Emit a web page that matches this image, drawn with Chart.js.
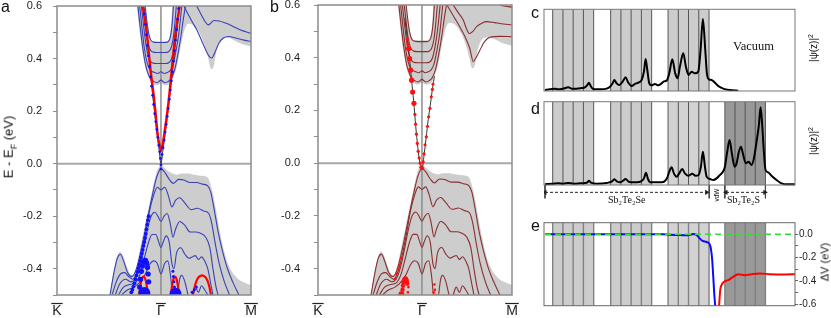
<!DOCTYPE html>
<html><head><meta charset="utf-8">
<script src="https://cdn.jsdelivr.net/npm/chart.js@4.4.1/dist/chart.umd.min.js"></script>
<style>
html,body{margin:0;padding:0;background:#fff;}
#wrap{position:relative;width:831px;height:318px;overflow:hidden;font-family:'Liberation Sans',Arial,sans-serif;color:#111;}
canvas{position:absolute;}
.lbl{position:absolute;white-space:nowrap;line-height:1;}
.rot{transform:translate(-50%,-50%) rotate(-90deg);}
.serif{font-family:'Liberation Serif','Times New Roman',serif;}
</style></head><body><div id="wrap">
<canvas id="ca" width="262" height="318" style="left:0;top:0"></canvas>
<canvas id="cb" width="262" height="318" style="left:261px;top:0"></canvas>
<canvas id="cc" width="260" height="100" style="left:540px;top:0"></canvas>
<canvas id="cd" width="260" height="115" style="left:540px;top:95px"></canvas>
<canvas id="ce" width="291" height="103" style="left:540px;top:215px"></canvas>
<div class="lbl" style="left:1px;top:-1px;font-size:16px">a</div>
<div class="lbl" style="left:270px;top:-1px;font-size:16px">b</div>
<div class="lbl" style="left:531px;top:5px;font-size:16px">c</div>
<div class="lbl" style="left:531px;top:101px;font-size:16px">d</div>
<div class="lbl" style="left:531px;top:218px;font-size:16px">e</div>
<div class="lbl rot" style="left:10px;top:147px;font-size:13px">E - E<sub style="font-size:9px">F</sub> (eV)</div>
<div class="lbl serif" style="left:733px;top:40px;font-size:12.5px">Vacuum</div>
<div class="lbl rot" style="left:813px;top:48px;font-size:10px">|ψ(z)|<sup style="font-size:7px">2</sup></div>
<div class="lbl rot" style="left:813px;top:141px;font-size:10px">|ψ(z)|<sup style="font-size:7px">2</sup></div>
<div class="lbl rot" style="left:825px;top:262px;font-size:11px">ΔV (eV)</div>
<div class="lbl serif" style="left:608px;top:195px;font-size:10px">Sb₂Te₂Se</div>
<div class="lbl serif" style="left:727px;top:195px;font-size:10px">Sb₂Te₂S</div>
<div class="lbl rot" style="left:717px;top:195px;font-size:6.5px">vdW</div>
</div>
<script>
// ---------- band structure data (k in units of |Gamma-K|, E in eV) ----------
const kTickVals = [-1, 0, 0.866];
const kTickLabels = ['K', '\u0393', 'M'];
const eTickVals = [-0.5,-0.4,-0.3,-0.2,-0.1,0,0.1,0.2,0.3,0.4,0.5,0.6];
const eTickLabels = ['','-0.4','','-0.2','','0.0','','0.2','','0.4','','0.6'];

const vbEdge = [[-0.49,-0.5],[-0.46,-0.42],[-0.43,-0.365],[-0.395,-0.335],[-0.36,-0.355],[-0.33,-0.39],[-0.3,-0.418],[-0.27,-0.425],[-0.24,-0.395],[-0.2,-0.32],[-0.16,-0.245],[-0.12,-0.17],[-0.08,-0.095],[-0.04,-0.03],[0,-0.006],[0.05,-0.022],[0.1,-0.036],[0.15,-0.042],[0.2,-0.038],[0.26,-0.038],[0.32,-0.042],[0.38,-0.046],[0.44,-0.05],[0.47,-0.07],[0.5,-0.115],[0.54,-0.2],[0.58,-0.285],[0.63,-0.365],[0.68,-0.41],[0.74,-0.438],[0.8,-0.452],[0.866,-0.462]];
const cbLow = [[-0.232,0.6],[-0.21,0.52],[-0.18,0.43],[-0.15,0.365],[-0.115,0.325],[-0.08,0.305],[-0.04,0.298],[0,0.305],[0.04,0.298],[0.08,0.302],[0.1,0.312],[0.12,0.332],[0.15,0.365],[0.18,0.425],[0.2,0.465],[0.23,0.512],[0.26,0.532],[0.3,0.53],[0.34,0.516],[0.38,0.49],[0.42,0.45],[0.455,0.4],[0.475,0.366],[0.49,0.36],[0.51,0.375],[0.53,0.42],[0.56,0.458],[0.6,0.476],[0.65,0.478],[0.7,0.47],[0.76,0.458],[0.866,0.445]];
const cbHigh = [[-0.232,0.6],[-0.154,0.6],[-0.14,0.56],[-0.125,0.52],[-0.11,0.49],[-0.095,0.472],[-0.08,0.466],[-0.04,0.466],[0,0.466],[0.04,0.466],[0.065,0.468],[0.08,0.478],[0.092,0.505],[0.102,0.55],[0.11,0.6],[0.866,0.6]];

const vb1 = [[-0.49,-0.5],[-0.45,-0.41],[-0.42,-0.36],[-0.39,-0.345],[-0.36,-0.37],[-0.32,-0.415],[-0.28,-0.43],[-0.24,-0.405],[-0.2,-0.345],[-0.16,-0.27],[-0.12,-0.19],[-0.08,-0.115],[-0.04,-0.05],[0,-0.02],[0.04,-0.035],[0.08,-0.06],[0.12,-0.075],[0.17,-0.06],[0.22,-0.062],[0.28,-0.072],[0.34,-0.072],[0.4,-0.078],[0.45,-0.085],[0.48,-0.11],[0.51,-0.17],[0.55,-0.26],[0.59,-0.33],[0.64,-0.4],[0.69,-0.45],[0.75,-0.5]];
const vb2 = [[-0.47,-0.5],[-0.43,-0.45],[-0.39,-0.42],[-0.35,-0.415],[-0.31,-0.43],[-0.27,-0.44],[-0.23,-0.41],[-0.19,-0.35],[-0.15,-0.27],[-0.11,-0.18],[-0.07,-0.12],[-0.035,-0.09],[0,-0.1],[0.035,-0.09],[0.07,-0.12],[0.105,-0.165],[0.14,-0.14],[0.18,-0.13],[0.23,-0.15],[0.29,-0.175],[0.35,-0.17],[0.41,-0.18],[0.46,-0.19],[0.49,-0.23],[0.52,-0.3],[0.56,-0.38],[0.61,-0.45],[0.66,-0.5]];
const vb3 = [[-0.44,-0.5],[-0.4,-0.46],[-0.34,-0.44],[-0.29,-0.45],[-0.25,-0.44],[-0.21,-0.4],[-0.17,-0.33],[-0.13,-0.25],[-0.095,-0.2],[-0.06,-0.185],[-0.03,-0.2],[0,-0.22],[0.03,-0.2],[0.06,-0.19],[0.09,-0.23],[0.115,-0.28],[0.14,-0.25],[0.18,-0.22],[0.23,-0.235],[0.28,-0.26],[0.33,-0.26],[0.38,-0.265],[0.43,-0.28],[0.47,-0.32],[0.5,-0.4],[0.53,-0.47],[0.55,-0.5]];
const vb4 = [[-0.41,-0.5],[-0.36,-0.47],[-0.3,-0.46],[-0.25,-0.455],[-0.2,-0.42],[-0.16,-0.36],[-0.12,-0.3],[-0.085,-0.27],[-0.05,-0.27],[-0.02,-0.3],[0,-0.32],[0.02,-0.3],[0.05,-0.275],[0.08,-0.3],[0.105,-0.38],[0.125,-0.4],[0.15,-0.34],[0.19,-0.32],[0.23,-0.345],[0.27,-0.36],[0.3,-0.355],[0.33,-0.35],[0.36,-0.365],[0.39,-0.355],[0.42,-0.37],[0.45,-0.4],[0.48,-0.46],[0.5,-0.5]];
const vb5 = [[-0.38,-0.5],[-0.32,-0.48],[-0.26,-0.47],[-0.2,-0.45],[-0.15,-0.42],[-0.11,-0.385],[-0.07,-0.37],[-0.035,-0.38],[0,-0.42],[0.035,-0.38],[0.065,-0.37],[0.09,-0.42],[0.11,-0.5]];
const vb6 = [[0.16,-0.5],[0.18,-0.44],[0.2,-0.425],[0.23,-0.45],[0.26,-0.5]];
const vb7 = [[0.3,-0.5],[0.33,-0.47],[0.36,-0.49],[0.39,-0.465],[0.42,-0.48],[0.45,-0.5]];

const cb1 = [[-0.152,0.6],[-0.138,0.55],[-0.12,0.5],[-0.1,0.472],[-0.075,0.463],[-0.04,0.461],[0,0.461],[0.04,0.461],[0.065,0.463],[0.085,0.475],[0.1,0.505],[0.11,0.545],[0.12,0.6]];
const cb2 = [[-0.17,0.6],[-0.155,0.545],[-0.135,0.48],[-0.11,0.438],[-0.08,0.425],[-0.04,0.423],[0,0.423],[0.04,0.423],[0.07,0.425],[0.095,0.438],[0.115,0.47],[0.13,0.52],[0.148,0.6]];
const cb3 = [[-0.188,0.6],[-0.17,0.535],[-0.145,0.455],[-0.115,0.4],[-0.085,0.384],[-0.04,0.381],[0,0.381],[0.04,0.381],[0.075,0.384],[0.1,0.398],[0.125,0.44],[0.15,0.505],[0.175,0.6]];
const cb4 = [[-0.205,0.6],[-0.185,0.525],[-0.16,0.44],[-0.13,0.38],[-0.1,0.355],[-0.06,0.347],[-0.03,0.343],[0,0.35],[0.03,0.343],[0.06,0.347],[0.09,0.355],[0.115,0.375],[0.14,0.42],[0.17,0.49],[0.2,0.6]];
const cb5 = [[-0.222,0.6],[-0.2,0.52],[-0.175,0.44],[-0.145,0.37],[-0.11,0.33],[-0.07,0.313],[-0.035,0.308],[0,0.318],[0.035,0.308],[0.07,0.313],[0.1,0.325],[0.13,0.355],[0.16,0.41],[0.19,0.48],[0.215,0.55],[0.235,0.6]];
const cbA_a = [[0.343,0.6],[0.39,0.565],[0.425,0.54],[0.455,0.528],[0.48,0.535],[0.51,0.545],[0.56,0.543],[0.62,0.535],[0.68,0.525],[0.76,0.51],[0.866,0.496]];
const cbB_a = [[0.22,0.6],[0.26,0.57],[0.3,0.54],[0.35,0.505],[0.4,0.46],[0.44,0.425],[0.47,0.405],[0.49,0.402],[0.52,0.425],[0.56,0.46],[0.6,0.478],[0.65,0.484],[0.72,0.478],[0.8,0.47],[0.866,0.465]];
const cbA_b = [[0.3,0.6],[0.35,0.57],[0.397,0.543],[0.43,0.508],[0.455,0.492],[0.49,0.5],[0.526,0.518],[0.58,0.532],[0.622,0.537],[0.7,0.533],[0.75,0.53],[0.866,0.524]];
const cbB_b = [[0.24,0.6],[0.3,0.56],[0.36,0.52],[0.42,0.475],[0.46,0.435],[0.494,0.385],[0.52,0.4],[0.558,0.429],[0.6,0.46],[0.654,0.478],[0.75,0.481],[0.866,0.48]];
const cbT_b = [[0.75,0.6],[0.8,0.595],[0.866,0.592]];

// panel a surface states
const aRedCone = [[-0.177,0.6],[-0.155,0.55],[-0.135,0.492],[-0.103,0.366],[-0.064,0.239],[-0.032,0.113],[-0.015,0.07],[0,0.049],[0.015,0.07],[0.032,0.113],[0.074,0.239],[0.106,0.366],[0.138,0.492],[0.16,0.55],[0.18,0.6]];
const aConeLine = [[-0.165,0.6],[-0.14,0.52],[-0.12,0.43],[-0.1,0.34],[-0.08,0.26],[-0.06,0.19],[-0.04,0.12],[-0.02,0.06],[0,0.0],[0.02,0.055],[0.04,0.11],[0.06,0.175],[0.08,0.24],[0.1,0.31],[0.12,0.385],[0.14,0.46],[0.16,0.53],[0.178,0.6]];
const aBlueCone = [[-0.16,0.57],[-0.15,0.53],[-0.14,0.49],[-0.13,0.45],[-0.12,0.41],[-0.11,0.37],[-0.1,0.33],[-0.09,0.295],[-0.08,0.26],[-0.07,0.225],[-0.06,0.19],[-0.05,0.16],[-0.04,0.13],[-0.03,0.1],[-0.02,0.07],[-0.012,0.045],[-0.005,0.02],[0,-0.005],[0,-0.02],[0.01,0.035],[0.02,0.06],[0.03,0.09],[0.04,0.12],[0.05,0.15],[0.06,0.18],[0.07,0.21],[0.08,0.245],[0.09,0.28],[0.1,0.315],[0.11,0.35],[0.12,0.39],[0.13,0.43],[0.14,0.47],[0.15,0.51],[0.16,0.55],[0.17,0.59]];
const aBlueEdge = [[-0.118,-0.2],[-0.125,-0.215],[-0.132,-0.232],[-0.139,-0.25],[-0.146,-0.267],[-0.153,-0.283],[-0.16,-0.298],[-0.168,-0.313],[-0.176,-0.328],[-0.184,-0.342],[-0.192,-0.356],[-0.2,-0.37],[-0.208,-0.384],[-0.217,-0.398],[-0.226,-0.412],[-0.235,-0.425],[-0.245,-0.44],[-0.255,-0.455],[-0.265,-0.468],[-0.275,-0.48],[-0.285,-0.49]];
const aBlueArch = [[-0.205,-0.47],[-0.197,-0.44],[-0.188,-0.41],[-0.178,-0.39],[-0.168,-0.375],[-0.158,-0.368],[-0.148,-0.368],[-0.138,-0.378],[-0.13,-0.395],[-0.123,-0.42],[-0.118,-0.45]];
const aBlueBig = [[-0.16,-0.492],[0.14,-0.495]];
const aBlueSmall = [[0.115,-0.41],[0.12,-0.43],[0.125,-0.45],[0.13,-0.47],[0.3,-0.49],[0.32,-0.48],[0.34,-0.47]];
const aRedArch1 = [[-0.215,-0.52],[-0.2,-0.47],[-0.185,-0.44],[-0.167,-0.43],[-0.15,-0.44],[-0.135,-0.47],[-0.12,-0.52]];
const aRedArch2 = [[0.09,-0.52],[0.105,-0.47],[0.12,-0.44],[0.135,-0.43],[0.15,-0.44],[0.165,-0.47],[0.18,-0.52]];
const aRedArch3 = [[0.3,-0.52],[0.33,-0.46],[0.36,-0.433],[0.395,-0.425],[0.43,-0.433],[0.46,-0.46],[0.49,-0.52]];

// panel b surface states
const bConeLine = [[-0.165,0.55],[-0.14,0.47],[-0.12,0.4],[-0.1,0.315],[-0.08,0.235],[-0.06,0.14],[-0.04,0.06],[-0.02,0.0],[0,-0.025],[0.02,0.03],[0.04,0.095],[0.06,0.165],[0.08,0.22],[0.1,0.28],[0.12,0.33]];
const bRedConeBig = [[-0.128,0.435],[-0.119,0.397],[-0.109,0.353],[-0.1,0.315],[-0.09,0.27],[-0.077,0.227]];
const bRedConeSmall = [[-0.141,0.47],[-0.135,0.452],[-0.068,0.185],[-0.061,0.148],[-0.053,0.11],[-0.045,0.075],[-0.036,0.045],[-0.027,0.02],[-0.018,0.0],[-0.01,-0.015],[0.006,-0.02],[0.012,0.005],[0.02,0.035],[0.03,0.07],[0.042,0.1],[0.053,0.14],[0.064,0.176],[0.077,0.208],[0.09,0.252],[0.1,0.28],[0.106,0.3]];
const bRedArch = [[-0.19,-0.5],[-0.187,-0.48],[-0.183,-0.465],[-0.178,-0.452],[-0.172,-0.443],[-0.165,-0.438],[-0.158,-0.437],[-0.151,-0.44],[-0.146,-0.447],[-0.142,-0.457]];
const bRedSmall = [[-0.2,-0.36],[-0.215,-0.385],[-0.23,-0.4],[-0.245,-0.42],[-0.26,-0.44],[-0.135,-0.49],[-0.13,-0.47],[0.12,-0.46],[0.125,-0.48],[0.113,-0.49],[0.13,-0.5]];
const bRedBlob = [[-0.198,-0.497]];

// ---------- profile data (z in Angstrom) ----------
const zBox = [0, 43.3];
const atomsQL1 = [1.5,3.27,5.03,6.8,8.57];
const atomsQL2 = [11.5,13.27,15.03,16.8,18.57];
const atomsQL3 = [21.4,23.17,24.93,26.7,28.47];
const atomsQL4 = [31.2,32.95,34.7,36.45,38.2];
const psiC = [[0.17,0.012],[1.03,0.02],[1.9,0.029],[2.47,0.02],[3.33,0.029],[4.2,0.045],[4.77,0.029],[5.63,0.029],[6.49,0.037],[7.07,0.045],[7.47,0.073],[7.76,0.102],[8.05,0.061],[8.39,0.029],[9.08,0.02],[9.94,0.02],[10.8,0.029],[11.38,0.053],[11.84,0.094],[12.13,0.135],[12.53,0.094],[12.99,0.073],[13.56,0.114],[14.08,0.167],[14.54,0.102],[15.11,0.061],[15.69,0.086],[16.26,0.102],[16.84,0.135],[17.24,0.237],[17.53,0.392],[17.82,0.257],[18.16,0.094],[18.56,0.069],[19.14,0.086],[19.71,0.069],[20.29,0.094],[20.69,0.118],[21.15,0.127],[21.61,0.216],[22.13,0.388],[22.64,0.216],[23.05,0.155],[23.45,0.298],[24.02,0.461],[24.48,0.298],[24.94,0.196],[25.46,0.237],[26.03,0.216],[26.61,0.237],[27.01,0.502],[27.41,0.882],[27.82,0.502],[28.1,0.216],[28.45,0.143],[28.91,0.135],[29.48,0.102],[30.06,0.061],[30.92,0.029],[32.07,0.012],[33.5,0.004]];
const psiD = [[0.17,0.008],[1.61,0.016],[2.47,0.02],[3.33,0.016],[4.2,0.024],[5.06,0.016],[6.21,0.02],[7.07,0.024],[7.47,0.032],[7.76,0.052],[8.1,0.028],[9.08,0.016],[10.8,0.024],[11.67,0.04],[12.13,0.068],[12.64,0.04],[13.1,0.032],[13.56,0.048],[14.08,0.072],[14.6,0.04],[15.11,0.032],[15.98,0.032],[16.84,0.048],[17.24,0.08],[17.59,0.148],[17.93,0.072],[18.39,0.032],[19.43,0.032],[20.29,0.032],[20.86,0.048],[21.26,0.088],[21.61,0.16],[22.01,0.212],[22.41,0.14],[22.87,0.1],[23.33,0.14],[23.85,0.192],[24.31,0.14],[24.89,0.112],[25.57,0.136],[26.15,0.112],[26.67,0.12],[27.07,0.22],[27.41,0.4],[27.76,0.22],[28.05,0.1],[28.62,0.072],[29.2,0.06],[29.77,0.08],[30.34,0.12],[30.8,0.152],[31.21,0.22],[31.61,0.4],[32.01,0.54],[32.41,0.38],[32.87,0.22],[33.22,0.26],[33.62,0.4],[33.97,0.46],[34.37,0.36],[34.83,0.26],[35.29,0.28],[35.8,0.24],[36.21,0.32],[36.67,0.52],[37.07,0.72],[37.36,0.932],[37.64,0.72],[37.93,0.4],[38.22,0.18],[38.68,0.152],[39.25,0.112],[40.11,0.06],[40.98,0.02],[41.84,0.008],[43.28,0.008]];
const arrowSe = [[0.17,-0.088],[28.05,-0.088]];
const arrowS = [[31.4,-0.088],[38.1,-0.088]];
const regionMarks = [0.17, 28.5, 31.2, 38.2];
const dvTickVals = [-0.6,-0.5,-0.4,-0.3,-0.2,-0.1,0];
const dvTickLabels = ['-0.6','','-0.4','','-0.2','','0.0'];
const dvBlue = [[0.17,0],[20.57,0],[21.72,-0.003],[23.45,-0.006],[24.89,-0.009],[25.75,0.003],[26.32,-0.006],[26.78,-0.031],[27.36,-0.057],[28.05,-0.066],[28.51,-0.08],[28.79,-0.123],[29.02,-0.223],[29.2,-0.366],[29.37,-0.509],[29.54,-0.62]];
const dvRed = [[30.2,-0.62],[30.4,-0.48],[30.63,-0.437],[31.03,-0.409],[31.78,-0.394],[32.64,-0.366],[33.5,-0.343],[34.66,-0.351],[35.8,-0.343],[37.24,-0.337],[38.97,-0.343],[41.26,-0.346],[43.3,-0.343]];
const dvZero = [[0.17,0],[43.3,0]];

// ---------- helpers ----------
Chart.defaults.font.family = "'Liberation Sans', Arial, sans-serif";
const P = a => a.map(p => ({x:p[0], y:p[1]}));
function ln(arr, color, w, o) {
  return Object.assign({data:P(arr), borderColor:color, borderWidth:w, pointRadius:0, fill:false,
    cubicInterpolationMode:'monotone', tension:0.4}, o||{});
}
function straight(arr, color, w, o) {
  return Object.assign({data:P(arr), borderColor:color, borderWidth:w, pointRadius:0, fill:false, tension:0}, o||{});
}
function dots(arr, color, r) {
  return {data:P(arr), showLine:false, pointRadius:r, pointBackgroundColor:color, pointBorderWidth:0,
    borderColor:color, backgroundColor:color, pointHoverRadius:r};
}
function ordered(list) { list.forEach((d,i) => d.order = -i); return list; }
function noPad(s) { s.paddingTop = 0; s.paddingBottom = 0; s.paddingLeft = 0; s.paddingRight = 0; }
const framePlugin = {
  id:'frame',
  afterDatasetsDraw(chart, args, opts) {
    const ctx = chart.ctx, xs = chart.scales.x, ys = chart.scales.y;
    let l,r,t,b;
    if (opts.box) { l = xs.getPixelForValue(opts.box[0]); r = xs.getPixelForValue(opts.box[1]);
      t = ys.getPixelForValue(opts.box[3]); b = ys.getPixelForValue(opts.box[2]); }
    else { l = chart.chartArea.left; r = chart.chartArea.right; t = chart.chartArea.top; b = chart.chartArea.bottom; }
    ctx.save(); ctx.strokeStyle = opts.color || '#888'; ctx.lineWidth = opts.width || 1;
    ctx.strokeRect(l, t, r-l, b-t); ctx.restore();
  }
};
// overline (bar) above the high-symmetry point labels, placed from the x scale's ticks
const overlinePlugin = {
  id:'overline',
  afterDraw(chart) {
    const s = chart.scales.x, ctx = chart.ctx;
    ctx.save(); ctx.font = "14px 'Liberation Sans', Arial, sans-serif";
    ctx.strokeStyle = '#222'; ctx.lineWidth = 1.2;
    s.ticks.forEach((t, i) => {
      const x = s.getPixelForValue(t.value), w = ctx.measureText(kTickLabels[i]).width;
      const y = s.top + 8.5;
      ctx.beginPath(); ctx.moveTo(x - w/2 - 1, y); ctx.lineTo(x + w/2 + 1, y); ctx.stroke();
    });
    ctx.restore();
  }
};
const GRAY = '#cdcdcd';

function bandChart(id, sets, yPad) {
  return new Chart(document.getElementById(id), {
    type:'line', data:{datasets:ordered(sets)},
    options:{responsive:false, animation:false, events:[],
      layout:{padding:{left:0,right:11,top:5,bottom:0}},
      plugins:{legend:{display:false}, tooltip:{enabled:false}, frame:{color:'#8c8c8c', width:1.5}},
      scales:{
        x:{type:'linear', min:-1, max:0.866,
          afterBuildTicks: s => { s.ticks = kTickVals.map(v => ({value:v})); },
          ticks:{callback:(v,i)=>kTickLabels[i], autoSkip:false, maxRotation:0, padding:8, color:'#222', font:{size:14}},
          grid:{display:false, drawTicks:false}, border:{display:false},
          afterFit: s => { s.height = 23; noPad(s); }},
        y:{type:'linear', min:-0.5, max:0.6,
          afterBuildTicks: s => { s.ticks = eTickVals.map(v => ({value:v})); },
          ticks:{callback:(v,i)=>eTickLabels[i], autoSkip:false, padding:yPad, color:'#222', font:{size:11}},
          grid:{drawOnChartArea:false, drawTicks:true, tickLength:4, color:'#8c8c8c'}, border:{display:false},
          afterFit: s => { s.width = 57; noPad(s); }}
      }},
    plugins:[framePlugin, overlinePlugin]
  });
}

function common(lineColor) {
  return [
    ln(vbEdge, GRAY, 0, {fill:'start', backgroundColor:GRAY}),
    ln(cbLow, GRAY, 0),
    ln(cbHigh, GRAY, 0, {fill:'-1', backgroundColor:GRAY}),
    straight([[0,-0.5],[0,0.6]], '#8c8c8c', 1.5),
    straight([[-1,0],[0.866,0]], '#a8a8a8', 2),
    ln(vb1, lineColor, 1.1), ln(vb2, lineColor, 1.1), ln(vb3, lineColor, 1.1), ln(vb4, lineColor, 1.1),
    ln(vb5, lineColor, 1.1), ln(vb6, lineColor, 1.1), ln(vb7, lineColor, 1.1),
    ln(cb1, lineColor, 1.1), ln(cb2, lineColor, 1.1), ln(cb3, lineColor, 1.1), ln(cb4, lineColor, 1.1), ln(cb5, lineColor, 1.1)
  ];
}

const BLUEL = '#3742b5', REDL = '#8a2f2f';
bandChart('ca', common(BLUEL).concat([
  ln(cbA_a, BLUEL, 1.1), ln(cbB_a, BLUEL, 1.1),
  ln(aConeLine, '#333355', 1),
  ln(aRedArch1, '#ff0000', 2.2, {cubicInterpolationMode:'default'}),
  ln(aRedArch2, '#ff0000', 2.2, {cubicInterpolationMode:'default'}),
  ln(aRedArch3, '#ff0000', 2.2, {cubicInterpolationMode:'default'}),
  dots(aBlueEdge, '#1010ff', 1.9),
  dots(aBlueArch, '#1010ff', 2.6),
  dots(aBlueBig, '#1010ff', 6),
  dots(aBlueSmall, '#1010ff', 1.5),
  ln(aRedCone, '#ff0000', 2.4),
  dots(aBlueCone, '#1010ff', 1.4)
]), 11);

bandChart('cb', common(REDL).concat([
  ln(cbA_b, REDL, 1.1), ln(cbB_b, REDL, 1.1), ln(cbT_b, REDL, 1.1),
  ln(bConeLine, '#333333', 1),
  dots(bRedConeSmall, '#ff1010', 1.6),
  dots(bRedConeBig, '#ff1010', 2.6),
  dots(bRedArch, '#ff1010', 2.2),
  dots(bRedSmall, '#ff1010', 1.3),
  dots(bRedBlob, '#ff1010', 3)
]), 14);

// ---------- profile charts ----------
function atomLines(atoms, y0, y1) {
  const d = [];
  atoms.forEach(z => { d.push([z,y0],[z,y1],[z,null]); });
  return d;
}
function slab(atoms, top, color, fillTo) {
  return straight([[atoms[0],top],[atoms[atoms.length-1],top]], color, 0, {fill:fillTo, backgroundColor:color, spanGaps:false});
}
function profChart(id, sets, yMin, yMax, pad, frameOpts, yAxis) {
  const scales = {
    x:{type:'linear', min:zBox[0], max:zBox[1], display:false},
    y:yAxis || {type:'linear', min:yMin, max:yMax, display:false}
  };
  return new Chart(document.getElementById(id), {
    type:'line', data:{datasets:ordered(sets)},
    options:{responsive:false, animation:false, events:[], layout:{padding:pad},
      plugins:{legend:{display:false}, tooltip:{enabled:false}, frame:frameOpts},
      scales}, plugins:[framePlugin]
  });
}
const LG = '#cccccc', DG = '#999999', AL = '#555555';
const allAtoms = atomsQL1.concat(atomsQL2, atomsQL3);
const vLines = (atoms, y0, y1, c, w) => straight(atomLines(atoms, y0, y1), c, w);

profChart('cc', [
  slab(atomsQL1, 1, LG, 'start'), slab(atomsQL2, 1, LG, 'start'), slab(atomsQL3, 1, LG, 'start'),
  vLines(allAtoms, 0, 1, AL, 1),
  ln(psiC, '#000000', 2)
], 0, 1, {left:4,right:5,top:9.3,bottom:9}, {color:'#777', width:1});

profChart('cd', [
  slab(atomsQL1, 1, LG, 'origin'), slab(atomsQL2, 1, LG, 'origin'), slab(atomsQL3, 1, '#d2d2d2', 'origin'), slab(atomsQL4, 1, DG, 'origin'),
  vLines(allAtoms.concat(atomsQL4), 0, 1, AL, 1),
  vLines(regionMarks, 0, -0.16, '#444', 1),
  straight(arrowSe, '#222', 1, {borderDash:[3,2], pointRadius:3, pointStyle:'triangle', pointRotation:[-90,90], pointBackgroundColor:'#222', pointBorderWidth:0}),
  straight(arrowS, '#222', 1, {borderDash:[3,2], pointRadius:3, pointStyle:'triangle', pointRotation:[-90,90], pointBackgroundColor:'#222', pointBorderWidth:0}),
  ln(psiD, '#000000', 2)
], -0.24, 1, {left:4,right:5,top:6.7,bottom:5}, {color:'#777', width:1, box:[0,43.3,0,1]});

profChart('ce', [
  slab(atomsQL1, 0.1, LG, 'start'), slab(atomsQL2, 0.1, LG, 'start'), slab(atomsQL3, 0.1, '#d2d2d2', 'start'), slab(atomsQL4, 0.1, DG, 'start'),
  vLines(allAtoms.concat(atomsQL4), -0.614, 0.1, '#808080', 1.4),
  ln(dvBlue, '#0a0aff', 2),
  ln(dvRed, '#ff0000', 2),
  straight(dvZero, '#33dd33', 1.6, {borderDash:[6,4]})
], -0.614, 0.1, {left:4,right:6,top:7.7,bottom:12.3}, {color:'#666', width:1},
{type:'linear', position:'right', min:-0.614, max:0.1,
  afterBuildTicks: s => { s.ticks = dvTickVals.map(v => ({value:v})); },
  ticks:{callback:(v,i)=>dvTickLabels[i], autoSkip:false, padding:1, color:'#222', font:{size:10}},
  grid:{drawOnChartArea:false, drawTicks:true, tickLength:3, color:'#666'}, border:{display:false},
  afterFit: s => { s.width = 30; noPad(s); }});
</script>
</body></html>
